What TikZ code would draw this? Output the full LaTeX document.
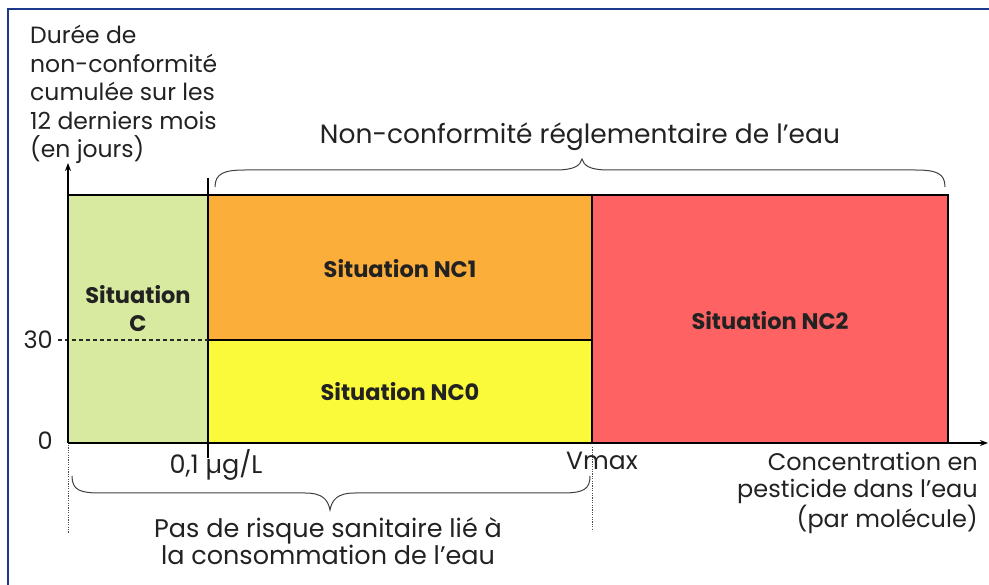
\documentclass[tikz,border=0pt]{standalone}
\usepackage{fontspec}
\setmainfont{Poppins}
\usetikzlibrary{arrows.meta}
\definecolor{frameblue}{HTML}{1B3A8C}
\definecolor{cgreen}{HTML}{D8E9A0}
\definecolor{corange}{HTML}{FBAE3A}
\definecolor{cyellow}{HTML}{FAFA3A}
\definecolor{cred}{HTML}{FF6262}
\definecolor{txt}{HTML}{222222}
\tikzset{
  zone/.style={draw=black, line width=1.6pt},
  zlabel/.style={font=\fontsize{22.5}{28}\selectfont\bfseries, text=txt, align=center, inner sep=0pt},
  plain/.style={font=\fontsize{24}{28.5}\selectfont, text=txt, inner sep=0pt},
  bracecurve/.style={draw=black!75, line width=1pt},
  axisline/.style={draw=black, line width=1.6pt},
  dotline/.style={draw=black!70, line width=1pt, dash pattern=on 1.2pt off 1.2pt},
}
\begin{document}
\begin{tikzpicture}[x=1pt,y=-1pt]
\useasboundingbox (0,0) rectangle (989,585);
% frame (top and left only)
\draw[frameblue, line width=2pt] (8,585) -- (8,9) -- (989,9);

% zones
\fill[cgreen] (68,195) rectangle (208,443);
\fill[corange] (208,195) rectangle (592,340);
\fill[cyellow] (208,340) rectangle (592,443);
\fill[cred] (592,195) rectangle (948,443);
\draw[zone] (68,195) -- (948,195) -- (948,443);
\draw[zone] (208,178) -- (208,458);
\draw[zone] (592,195) -- (592,443);
\draw[zone] (208,340) -- (592,340);
\draw[black!85, line width=1.3pt, dash pattern=on 4pt off 3pt] (58,340) -- (208,340);

% axes
\coordinate (O) at (68,443);
\coordinate (ytip) at (68,163);
\coordinate (xtip) at (988,443);
\draw[axisline, -{Stealth[length=8pt,width=6pt]}] (O) -- (ytip);
\draw[axisline, -{Stealth[length=8pt,width=6pt]}] (O) -- (xtip);

% dotted verticals
\coordinate (d1a) at (68,445); \coordinate (d1b) at (68,533);
\coordinate (d2a) at (592,447); \coordinate (d2b) at (592,531);
\draw[dotline] (d1a) -- (d1b);
\draw[dotline] (d2a) -- (d2b);

% zone labels
\node[zlabel] (zc) at (138,309) {Situation\\C};
\node[zlabel] (znc1) at (400,269) {Situation NC1};
\node[zlabel] (znc0) at (400,392) {Situation NC0};
\node[zlabel] (znc2) at (770,321) {Situation NC2};

% axis labels
\node[plain, anchor=north west, align=left, font=\fontsize{23.5}{28.5}\selectfont] (ylab) at (30,25) {Durée de\\non-conformité\\cumulée sur les\\12 derniers mois\\(en jours)};
\node[plain, anchor=east] (l30) at (53,340) {30};
\node[plain, anchor=east] (l0) at (53,441) {0};
\node[plain, font=\fontsize{25.5}{28}\selectfont] (l01) at (216,465) {0,1 µg/L};
\node[plain, font=\fontsize{25}{28}\selectfont] (lvmax) at (602,461) {Vmax};
\node[plain, anchor=east, align=right, font=\fontsize{24}{27.5}\selectfont] (xlab) at (978,493) {Concentration en\\pesticide dans l’eau\\(par molécule)};

% top brace
\draw[bracecurve] (215,187) .. controls (215,173) and (225,170) .. (245,170) -- (555,170)
  .. controls (574,170) and (580,166) .. (582,159) .. controls (584,166) and (590,170) .. (609,170)
  -- (915,170) .. controls (936,170) and (945,173) .. (945,187);
\node[plain, font=\fontsize{26.5}{30}\selectfont] (ltop) at (580,137) {Non-conformité réglementaire de l’eau};

% bottom brace
\draw[bracecurve] (72,476) .. controls (72,490) and (80,493) .. (100,493) -- (305,493)
  .. controls (323,493) and (328,500) .. (330,510) .. controls (332,500) and (337,493) .. (355,493)
  -- (562,493) .. controls (584,493) and (590,489) .. (590,476);
\node[plain, align=center, font=\fontsize{25.5}{26}\selectfont] (lbot) at (328,541) {Pas de risque sanitaire lié à\\la consommation de l’eau};
\end{tikzpicture}
\end{document}
